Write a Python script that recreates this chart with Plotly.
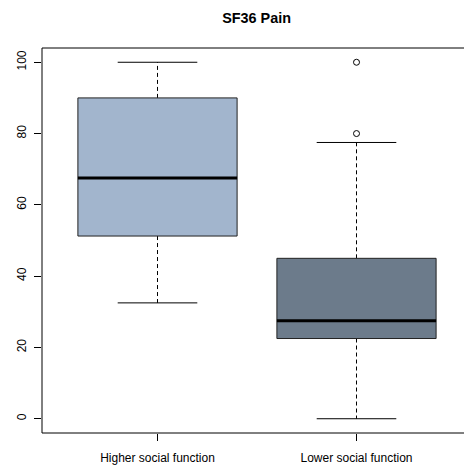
import plotly.graph_objects as go

categories = ["Higher social function", "Lower social function"]
lower_whisker = [32.5, 0.0]
q1 = [51.25, 22.5]
median = [67.5, 27.5]
q3 = [90.0, 45.0]
upper_whisker = [100.0, 77.5]
outlier_group = [2, 2]
outlier_value = [80.0, 100.0]
fill_colors = ["#A2B5CD", "#6C7B8B"]
y_ticks = [0, 20, 40, 60, 80, 100]

BOX_W = 0.8
CAP_W = 0.4

fig = go.Figure()
for i, name in enumerate(categories):
    x = i + 1
    l, r = x - BOX_W / 2, x + BOX_W / 2
    cl, cr = x - CAP_W / 2, x + CAP_W / 2
    # whiskers (dashed)
    fig.add_trace(go.Scatter(x=[x, x, None, x, x], y=[q3[i], upper_whisker[i], None, q1[i], lower_whisker[i]],
                             mode="lines", line=dict(color="black", width=1, dash="4px,3px"),
                             showlegend=False, hoverinfo="skip"))
    # caps
    fig.add_trace(go.Scatter(x=[cl, cr, None, cl, cr], y=[upper_whisker[i], upper_whisker[i], None, lower_whisker[i], lower_whisker[i]],
                             mode="lines", line=dict(color="black", width=1),
                             showlegend=False, hoverinfo="skip"))
    # box
    fig.add_trace(go.Scatter(x=[l, r, r, l, l], y=[q1[i], q1[i], q3[i], q3[i], q1[i]],
                             mode="lines", fill="toself", fillcolor=fill_colors[i],
                             line=dict(color="#222222", width=1), showlegend=False, name=name))
    # median
    fig.add_trace(go.Scatter(x=[l, r], y=[median[i], median[i]], mode="lines",
                             line=dict(color="black", width=3), showlegend=False, hoverinfo="skip"))

fig.add_trace(go.Scatter(x=outlier_group, y=outlier_value, mode="markers",
                         marker=dict(symbol="circle-open", size=6, color="black", line=dict(width=1)),
                         showlegend=False))

fig.add_shape(type="rect", xref="paper", yref="paper", x0=0, x1=1.1, y0=0, y1=1,
              line=dict(color="black", width=1))

fig.update_layout(
    width=464, height=465,
    margin=dict(l=42, r=0, t=48, b=32),
    paper_bgcolor="white", plot_bgcolor="white",
    font=dict(family="Liberation Sans, Arial, sans-serif", size=12, color="black"),
    title=dict(text="<b>SF36 Pain</b>", x=0.553, xref="container", xanchor="center",
               y=0.961, yref="container", yanchor="middle", font=dict(size=14.4)),
    xaxis=dict(range=[0.4196, 2.5402], tickvals=[1, 2], ticktext=categories,
               ticks="outside", ticklen=7, tickcolor="black", showgrid=False,
               zeroline=False, showline=False, ticklabelstandoff=7),
    yaxis=dict(range=[-4, 104], tickvals=y_ticks, tickangle=-90,
               ticks="outside", ticklen=7, tickcolor="black", showgrid=False,
               zeroline=False, showline=False, ticklabelstandoff=3),
)
fig.write_html("out.html", config={"displayModeBar": False},
               post_script="document.body.style.margin='0';document.body.style.overflow='hidden';")
